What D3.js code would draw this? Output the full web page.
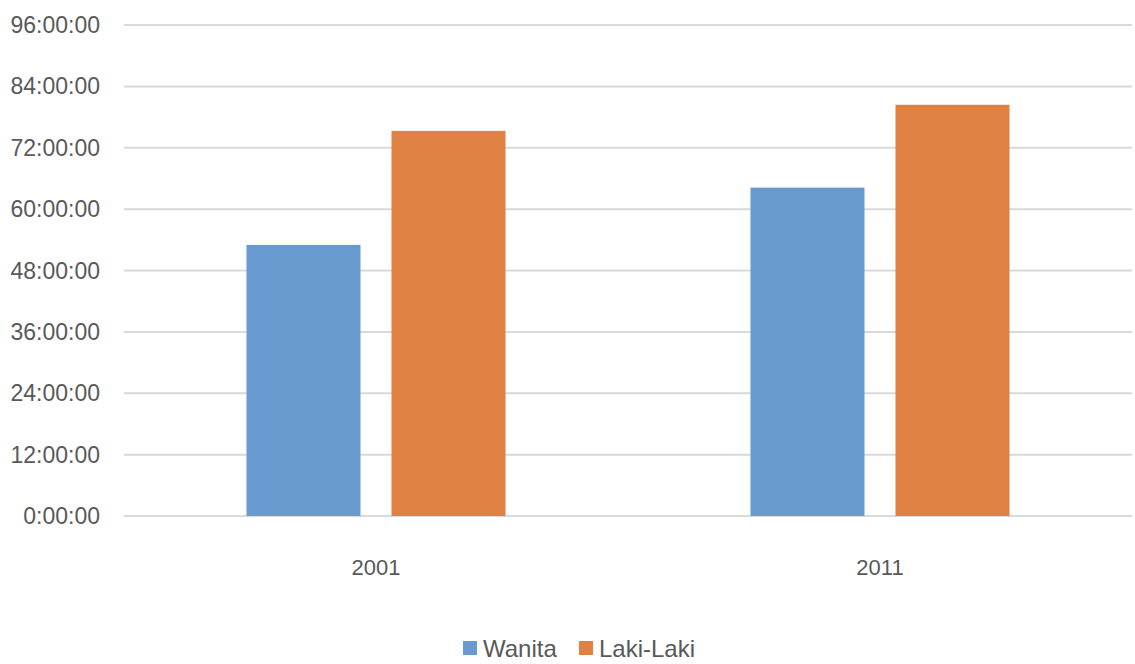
<!DOCTYPE html>
<html>
<head>
<meta charset="utf-8">
<script src="https://cdn.jsdelivr.net/npm/d3@7"></script>
<style>
  body { margin: 0; background: #fff; }
  svg text { font-family: "Liberation Sans", "DejaVu Sans", sans-serif; fill: #595959; }
</style>
</head>
<body>
<div class="chart"></div>
<script>
const width = 1135
const height = 664

// values, in hours
const years = ["2001", "2011"]
const seriesNames = ["Wanita", "Laki-Laki"]
const wanita = [53.0, 64.2]
const lakiLaki = [75.3, 80.4]
const yTicks = [0, 12, 24, 36, 48, 60, 72, 84, 96]
const colors = ["#6899cf", "#df8142"]

const margin = {top: 25, right: 3, bottom: 148, left: 124}

function fmtHours(h) {
  const total = Math.round(h * 3600)
  const hh = Math.floor(total / 3600)
  const mm = Math.floor((total % 3600) / 60)
  const ss = total % 60
  return `${hh}:${String(mm).padStart(2, "0")}:${String(ss).padStart(2, "0")}`
}

const rows = years.map((y, i) => ({year: y, values: [wanita[i], lakiLaki[i]]}))

const svg = d3.create("svg")
  .attr("width", width)
  .attr("height", height)

const x = d3.scaleBand()
  .domain(years)
  .range([margin.left, width - margin.right])

const y = d3.scaleLinear()
  .domain([0, 96])
  .range([height - margin.bottom, margin.top])

// bars of 114px with a 31px gap, centred in each band
const barW = 114, gap = 31
const groupW = barW * 2 + gap
const x1 = d3.scaleBand()
  .domain(seriesNames)
  .range([0, groupW])
  .paddingInner(gap / (barW + gap))

// gridlines
svg.append("g")
  .selectAll("line")
  .data(yTicks)
  .join("line")
  .attr("x1", margin.left)
  .attr("x2", width - margin.right)
  .attr("y1", d => y(d))
  .attr("y2", d => y(d))
  .attr("stroke", "#d9d9d9")
  .attr("stroke-width", 2)

// y labels
svg.append("g")
  .selectAll("text")
  .data(yTicks)
  .join("text")
  .attr("x", 100)
  .attr("y", d => y(d))
  .attr("dy", "0.35em")
  .attr("text-anchor", "end")
  .style("font-size", "23px")
  .text(d => fmtHours(d))

// bars
const groups = svg.append("g")
  .selectAll("g")
  .data(rows)
  .join("g")
  .attr("transform", d => `translate(${x(d.year) + (x.bandwidth() - groupW) / 2},0)`)

groups.selectAll("rect")
  .data(d => d.values.map((v, i) => ({name: seriesNames[i], value: v, i})))
  .join("rect")
  .attr("x", d => x1(d.name))
  .attr("width", x1.bandwidth())
  .attr("y", d => y(d.value))
  .attr("height", d => y(0) - y(d.value))
  .attr("fill", d => colors[d.i])
  .append("title")
  .text(d => `${d.name}: ${fmtHours(d.value)}`)

// x labels
svg.append("g")
  .selectAll("text")
  .data(years)
  .join("text")
  .attr("x", d => x(d) + x.bandwidth() / 2)
  .attr("y", 575)
  .attr("text-anchor", "middle")
  .style("font-size", "22px")
  .text(d => d)

// legend
const legend = svg.append("g")
const legendX = [463, 579]
seriesNames.forEach((name, i) => {
  legend.append("rect")
    .attr("x", legendX[i])
    .attr("y", 641)
    .attr("width", 14)
    .attr("height", 14)
    .attr("fill", colors[i])
  legend.append("text")
    .attr("x", legendX[i] + 20)
    .attr("y", 657)
    .style("font-size", "24px")
    .text(name)
})

document.querySelector(".chart").append(svg.node())
</script>
</body>
</html>
